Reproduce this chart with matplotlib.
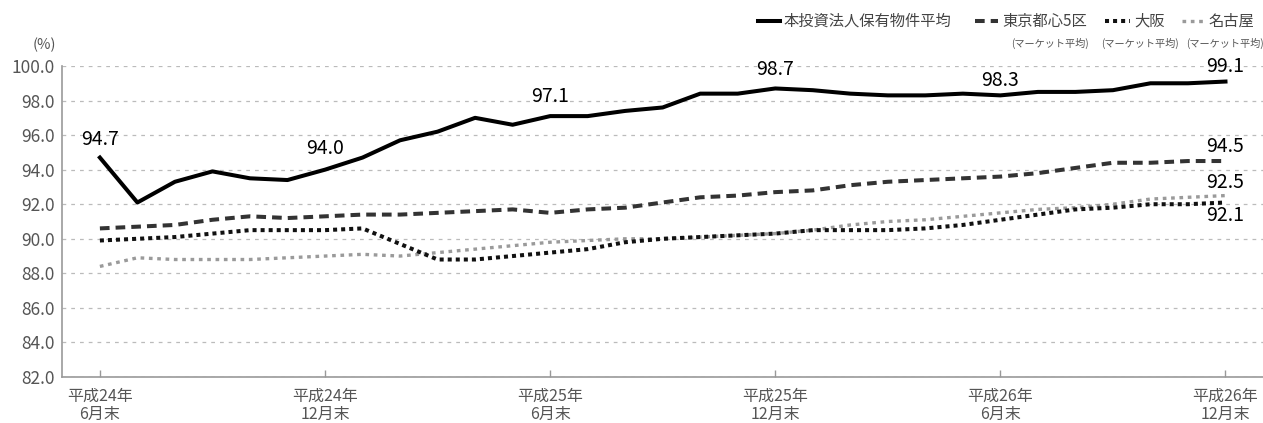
import matplotlib
matplotlib.use('Agg')
import matplotlib.pyplot as plt
from matplotlib.lines import Line2D

plt.rcParams['font.family'] = ['Noto Sans CJK JP', 'DejaVu Sans']

# 月末ごとの稼働率 (平成24年6月末 〜 平成26年12月末)
months = list(range(31))
honto = [94.7, 92.1, 93.3, 93.9, 93.5, 93.4, 94.0, 94.7, 95.7, 96.2, 97.0, 96.6, 97.1,
         97.1, 97.4, 97.6, 98.4, 98.4, 98.7, 98.6, 98.4, 98.3, 98.3, 98.4, 98.3,
         98.5, 98.5, 98.6, 99.0, 99.0, 99.1]
tokyo = [90.6, 90.7, 90.8, 91.1, 91.3, 91.2, 91.3, 91.4, 91.4, 91.5, 91.6, 91.7, 91.5,
         91.7, 91.8, 92.1, 92.4, 92.5, 92.7, 92.8, 93.1, 93.3, 93.4, 93.5, 93.6,
         93.8, 94.1, 94.4, 94.4, 94.5, 94.5]
osaka = [89.9, 90.0, 90.1, 90.3, 90.5, 90.5, 90.5, 90.6, 89.7, 88.8, 88.8, 89.0, 89.2,
         89.4, 89.8, 90.0, 90.1, 90.2, 90.3, 90.5, 90.5, 90.5, 90.6, 90.8, 91.1,
         91.4, 91.7, 91.8, 92.0, 92.0, 92.1]
nagoya = [88.4, 88.9, 88.8, 88.8, 88.8, 88.9, 89.0, 89.1, 89.0, 89.2, 89.4, 89.6, 89.8,
          89.9, 90.0, 90.0, 90.1, 90.2, 90.3, 90.5, 90.8, 91.0, 91.1, 91.3, 91.5,
          91.7, 91.8, 92.0, 92.3, 92.4, 92.5]

tick_pos = [0, 6, 12, 18, 24, 30]
tick_labels = ['平成24年\n6月末', '平成24年\n12月末', '平成25年\n6月末',
               '平成25年\n12月末', '平成26年\n6月末', '平成26年\n12月末']
label_idx = [0, 6, 12, 18, 24, 30]

W, H = 1263, 423
fig = plt.figure(figsize=(W / 100, H / 100), dpi=100)
ax = fig.add_axes([62 / W, 1 - 377 / H, 1 - 62 / W, (377 - 66) / H])

ax.plot(months, nagoya, color='#9a9a9a', lw=2.4, dashes=(1.1, 1.4), solid_capstyle='butt')
ax.plot(months, osaka, color='#111111', lw=2.9, dashes=(1.0, 1.0), solid_capstyle='butt')
ax.plot(months, tokyo, color='#333333', lw=2.9, dashes=(2.4, 1.5), solid_capstyle='butt')
ax.plot(months, honto, color='black', lw=2.9)

ax.set_xlim(-1.01, 31.0)
ax.set_ylim(82, 100)
ax.set_yticks([82 + 2 * i for i in range(10)])
ax.set_yticklabels([f'{82 + 2 * i:.1f}' for i in range(10)], fontsize=12.5, color='#555555')
ax.set_xticks(tick_pos)
ax.set_xticklabels(tick_labels, fontsize=11.5, color='#555555', linespacing=1.1)
ax.tick_params(axis='y', length=0, pad=5)
ax.tick_params(axis='x', direction='in', length=5, width=1, color='#999999', pad=8)

ax.grid(axis='y', color='#bbbbbb', lw=0.9, dashes=(3, 4))
ax.set_axisbelow(True)
for s in ['top', 'right']:
    ax.spines[s].set_visible(False)
for s in ['left', 'bottom']:
    ax.spines[s].set_color('#999999')
    ax.spines[s].set_linewidth(1.2)

# 数値ラベル
offs = [13, 15, 14, 14, 11, 11]
for i, o in zip(label_idx, offs):
    ax.annotate(f'{honto[i]:.1f}', (months[i], honto[i]), xytext=(0, o),
                textcoords='offset points', ha='center', va='center', fontsize=14)
ax.annotate(f'{tokyo[-1]:.1f}', (months[-1], tokyo[-1]), xytext=(0, 10.5),
            textcoords='offset points', ha='center', va='center', fontsize=14)
ax.annotate(f'{nagoya[-1]:.1f}', (months[-1], nagoya[-1]), xytext=(0, 9.5),
            textcoords='offset points', ha='center', va='center', fontsize=14)
ax.annotate(f'{osaka[-1]:.1f}', (months[-1], osaka[-1]), xytext=(0, -9.5),
            textcoords='offset points', ha='center', va='center', fontsize=14)

fig.text(44 / W, 1 - 45 / H, '(%)', ha='center', va='center', fontsize=10.5, color='#555555')

# 凡例
def px(x, y):
    return x / W, 1 - y / H

legend_items = [
    (758, 780, '本投資法人保有物件平均', None, dict(color='black', lw=2.9)),
    (975, 998, '東京都心5区', 1050, dict(color='#333333', lw=2.9, dashes=(2.4, 1.5))),
    (1105, 1130, '大阪', 1140, dict(color='#111111', lw=2.9, dashes=(1.0, 1.0))),
    (1182, 1204, '名古屋', 1225, dict(color='#9a9a9a', lw=2.4, dashes=(1.1, 1.4))),
]
for x0, x1, lab, sub_x, style in legend_items:
    (fx0, fy), (fx1, _) = px(x0, 21), px(x1, 21)
    fig.add_artist(Line2D([fx0, fx1], [fy, fy], transform=fig.transFigure, **style))
    fig.text(*px(x1 + 4, 21), lab, ha='left', va='center', fontsize=11, color='#444444')
    if sub_x is not None:
        fig.text(*px(sub_x, 43), '(マーケット平均)', ha='center', va='center',
                 fontsize=7.3, color='#555555')

fig.savefig('out.png', dpi=100)
